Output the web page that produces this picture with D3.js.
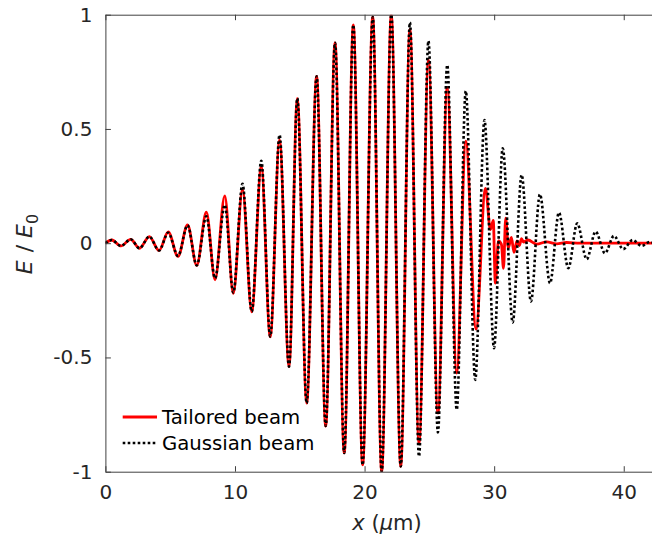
<!DOCTYPE html>
<html>
<head>
<meta charset="utf-8">
<script src="https://cdn.jsdelivr.net/npm/d3@7"></script>
<style>
  html, body { margin: 0; padding: 0; background: #fff; }
  svg { display: block; }
  text { font-family: "DejaVu Sans", sans-serif; }
</style>
</head>
<body>
<div id="chart"></div>
<script>
// ---- data ----
// Gaussian beam: extrema positions (µm) and values
const gaussX = [0, 0.49, 1.20, 1.95, 2.63, 3.39, 4.14, 4.85, 5.60, 6.34, 7.05, 7.79, 8.46, 9.21, 9.87,
  10.58, 11.29, 12.03, 12.72, 13.44, 14.17, 14.81, 15.53, 16.30, 17.00, 17.72, 18.43, 19.13, 19.85,
  20.63, 21.32, 22.06, 22.79, 23.50, 24.20, 24.93, 25.66, 26.38, 27.11, 27.81, 28.54, 29.25, 29.99,
  30.66, 31.43, 32.12, 32.84, 33.53, 34.31, 35.00, 35.72, 36.41, 37.14, 37.83, 38.55, 39.24, 39.96,
  40.69, 41.38, 42.02, 42.3];
const gaussY = [0, 0.014, -0.012, 0.017, -0.022, 0.029, -0.032, 0.046, -0.056, 0.078, -0.097, 0.118, -0.153, 0.168, -0.216,
  0.260, -0.299, 0.361, -0.408, 0.474, -0.540, 0.634, -0.700, 0.730, -0.800, 0.877, -0.918, 0.955, -0.970,
  0.990, -1.000, 1.000, -0.977, 0.966, -0.933, 0.885, -0.828, 0.780, -0.729, 0.666, -0.598, 0.539, -0.459,
  0.415, -0.347, 0.299, -0.255, 0.214, -0.175, 0.134, -0.109, 0.087, -0.070, 0.051, -0.044, 0.032, -0.026,
  0.014, -0.012, 0.006, 0];

// Tailored beam
const tailX = [0, 0.49, 1.20, 1.95, 2.63, 3.39, 4.14, 4.85, 5.60, 6.34, 7.05, 7.79, 8.46, 9.21, 9.87,
  10.58, 11.29, 12.03, 12.72, 13.44, 14.17, 14.81, 15.53, 16.30, 17.00, 17.72, 18.43, 19.13, 19.85,
  20.63, 21.32, 22.06, 22.79, 23.50, 24.20, 24.93, 25.66, 26.38, 27.11, 27.81, 28.60, 29.33, 29.71,
  29.93, 30.09, 30.33, 30.56, 30.72, 30.89, 31.09, 31.33, 31.53, 31.76, 31.95, 32.11, 32.26, 32.61,
  33.28, 34.05, 34.82, 35.59, 36.62, 42.3];
const tailY = [0, 0.014, -0.012, 0.017, -0.022, 0.029, -0.032, 0.050, -0.058, 0.080, -0.097, 0.136, -0.160, 0.207, -0.220,
  0.236, -0.300, 0.335, -0.410, 0.452, -0.540, 0.634, -0.700, 0.730, -0.800, 0.877, -0.918, 0.955, -0.970,
  0.990, -1.000, 1.000, -0.977, 0.936, -0.875, 0.800, -0.743, 0.682, -0.568, 0.447, -0.376, 0.240, 0.060,
  0.100, -0.175, 0.010, -0.005, -0.110, 0.110, -0.020, 0.025, -0.040, 0.010, -0.010, 0.020, 0.005, 0.014,
  -0.004, 0.006, -0.003, 0.003, 0, 0];

const xTicks = [0, 10, 20, 30, 40];
const yTicks = [-1, -0.5, 0, 0.5, 1];
const yTickLabels = ["-1", "-0.5", "0", "0.5", "1"];
const legendLabels = ["Tailored beam", "Gaussian beam"];

// ---- layout ----
const W = 652, H = 535;
const L = 105.4, R = 652, T = 14.7, B = 471.7;

const svg = d3.select("#chart").append("svg").attr("width", W).attr("height", H);

const x = d3.scaleLinear().domain([0, 42.18]).range([L, R]);
const y = d3.scaleLinear().domain([-1, 1]).range([B, T]);

svg.append("defs").append("clipPath").attr("id", "clip")
  .append("rect").attr("x", L).attr("y", T).attr("width", R - L).attr("height", B - T);

const line = d3.line().x(d => x(d[0])).y(d => y(d[1])).curve(d3.curveMonotoneX);

const tailData = tailX.map((v, i) => [v, tailY[i]]);
const gaussData = gaussX.map((v, i) => [v, gaussY[i]]);

const g = svg.append("g").attr("clip-path", "url(#clip)");
g.append("path").datum(tailData).attr("d", line)
  .attr("fill", "none").attr("stroke", "#ff0000").attr("stroke-width", 2.8)
  .attr("stroke-linejoin", "round");
g.append("path").datum(gaussData).attr("d", line)
  .attr("fill", "none").attr("stroke", "#000").attr("stroke-width", 2.6)
  .attr("stroke-dasharray", "2.6,2.4");

// ---- axes ----
const axisColor = "#404040";
const textColor = "#262626";

const xAxis = svg.append("g").attr("transform", `translate(0,${B})`)
  .call(d3.axisBottom(x).tickValues(xTicks).tickSizeInner(-5.5).tickSizeOuter(0).tickPadding(13).tickFormat(d3.format("d")));
const xAxisTop = svg.append("g").attr("transform", `translate(0,${T})`)
  .call(d3.axisTop(x).tickValues(xTicks).tickSizeInner(-5.5).tickSizeOuter(0).tickFormat(""));
const yAxis = svg.append("g").attr("transform", `translate(${L},0)`)
  .call(d3.axisLeft(y).tickValues(yTicks).tickSizeInner(-5.5).tickSizeOuter(0).tickPadding(13)
    .tickFormat((d, i) => yTickLabels[i]));

[xAxis, xAxisTop, yAxis].forEach(a => {
  a.selectAll("path.domain").attr("stroke", axisColor).attr("stroke-width", 1);
  a.selectAll(".tick line").attr("stroke", axisColor).attr("stroke-width", 1);
  a.selectAll(".tick text").attr("fill", textColor).style("font-size", "20px")
    .style("font-family", "DejaVu Sans, sans-serif");
});

// ---- axis labels ----
const xl = svg.append("text").attr("x", 387).attr("y", 530).attr("text-anchor", "middle")
  .attr("fill", textColor).style("font-size", "21px");
xl.append("tspan").style("font-style", "italic").text("x");
xl.append("tspan").text(" (");
xl.append("tspan").style("font-style", "italic").text("\u03bc");
xl.append("tspan").text("m)");

const yl = svg.append("text").attr("transform", "translate(32,244) rotate(-90)")
  .attr("text-anchor", "middle").attr("fill", textColor).style("font-size", "22px");
yl.append("tspan").style("font-style", "italic").text("E");
yl.append("tspan").attr("dx", 8).text("/");
yl.append("tspan").attr("dx", 7).style("font-style", "italic").text("E");
yl.append("tspan").attr("dy", 6).style("font-size", "16px").text("0");

// ---- legend ----
const lg = svg.append("g");
const legendRows = [
  { label: legendLabels[0], color: "#ff0000", dash: null, w: 2.8 },
  { label: legendLabels[1], color: "#000", dash: "2.6,2.4", w: 2.6 }
];
legendRows.forEach((r, i) => {
  const yy = 417 + i * 26;
  lg.append("line").attr("x1", 122.7).attr("x2", 157).attr("y1", yy).attr("y2", yy)
    .attr("stroke", r.color).attr("stroke-width", r.w).attr("stroke-dasharray", r.dash);
  lg.append("text").attr("x", 162).attr("y", yy + 7).attr("fill", "#000")
    .style("font-size", "19.7px").text(r.label);
});
</script>
</body>
</html>
